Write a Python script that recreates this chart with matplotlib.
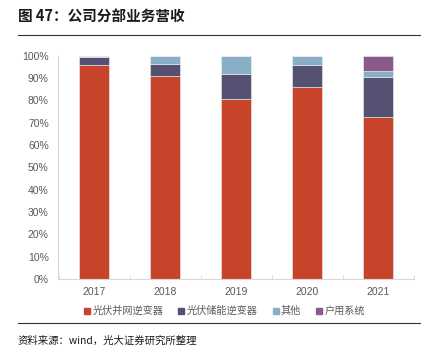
import numpy as np
import matplotlib.pyplot as plt
from matplotlib.lines import Line2D

plt.rcParams['font.family'] = ['Noto Sans CJK SC', 'DejaVu Sans']

years = ['2017', '2018', '2019', '2020', '2021']
grid_inv = [95.7, 91.0, 80.5, 85.8, 72.7]
storage_inv = [3.6, 5.3, 11.4, 10.2, 17.9]
others = [0.7, 3.7, 8.1, 4.0, 2.5]
household = [0.0, 0.0, 0.0, 0.0, 6.9]

series = [grid_inv, storage_inv, others, household]
names = ['光伏并网逆变器', '光伏储能逆变器', '其他', '户用系统']
colors = ['#C5442A', '#545172', '#88AFC5', '#8A5A8C']

fig = plt.figure(figsize=(4.21, 3.51), dpi=100)
ax = fig.add_axes([58.5/421, 1-279/351, 355/421, 223.3/351])

x = np.arange(len(years))
bottom = np.zeros(len(years))
for vals, name, c in zip(series, names, colors):
    vals = np.array(vals)
    ax.bar(x, vals, 0.42, bottom=bottom, color=c, label=name,
           edgecolor='#f0f0f0', linewidth=0.4)
    bottom += vals

num_font = ['Liberation Sans', 'DejaVu Sans']
ax.set_xlim(-0.5, len(years) - 0.5)
ax.set_ylim(0, 100)
ax.set_yticks(np.arange(0, 101, 10))
ax.set_yticklabels([f'{v}%' for v in range(0, 101, 10)], family=num_font)
ax.set_xticks(x)
ax.set_xticklabels(years, family=num_font)
ax.set_xticks(np.arange(-0.5, len(years)), minor=True)
ax.tick_params(axis='x', which='major', length=0, pad=6, labelsize=7.5, labelcolor='#595959')
ax.tick_params(axis='x', which='minor', length=3, direction='in', color='#d9d9d9')
ax.tick_params(axis='y', length=0, pad=7, labelsize=7.5, labelcolor='#595959')
for s in ['top', 'right']:
    ax.spines[s].set_visible(False)
ax.spines['left'].set_color('#d9d9d9')
ax.spines['bottom'].set_color('#d9d9d9')

handles = [Line2D([], [], marker='s', linestyle='', markersize=5, color=c) for c in colors]
fig.legend(handles, names, loc='center', bbox_to_anchor=(224/421, 1-311/351),
           ncol=4, frameon=False, fontsize=7.3, handletextpad=0.1, columnspacing=1.4,
           labelcolor='#595959', handlelength=0.8)

fig.text(18/421, 1-17/351, '图 47：公司分部业务营收', fontsize=10.5, fontweight='bold',
         va='center', ha='left', color='#1a1a1a')
fig.add_artist(Line2D([18/421, 1], [1-35/351, 1-35/351], color='#333333', linewidth=0.8))
fig.add_artist(Line2D([18/421, 1], [1-323/351, 1-323/351], color='#333333', linewidth=0.8))
fig.text(18/421, 1-341/351, '资料来源：wind，光大证券研究所整理', fontsize=7.5,
         va='center', ha='left', color='#1a1a1a')

fig.savefig('out.png', dpi=100)
